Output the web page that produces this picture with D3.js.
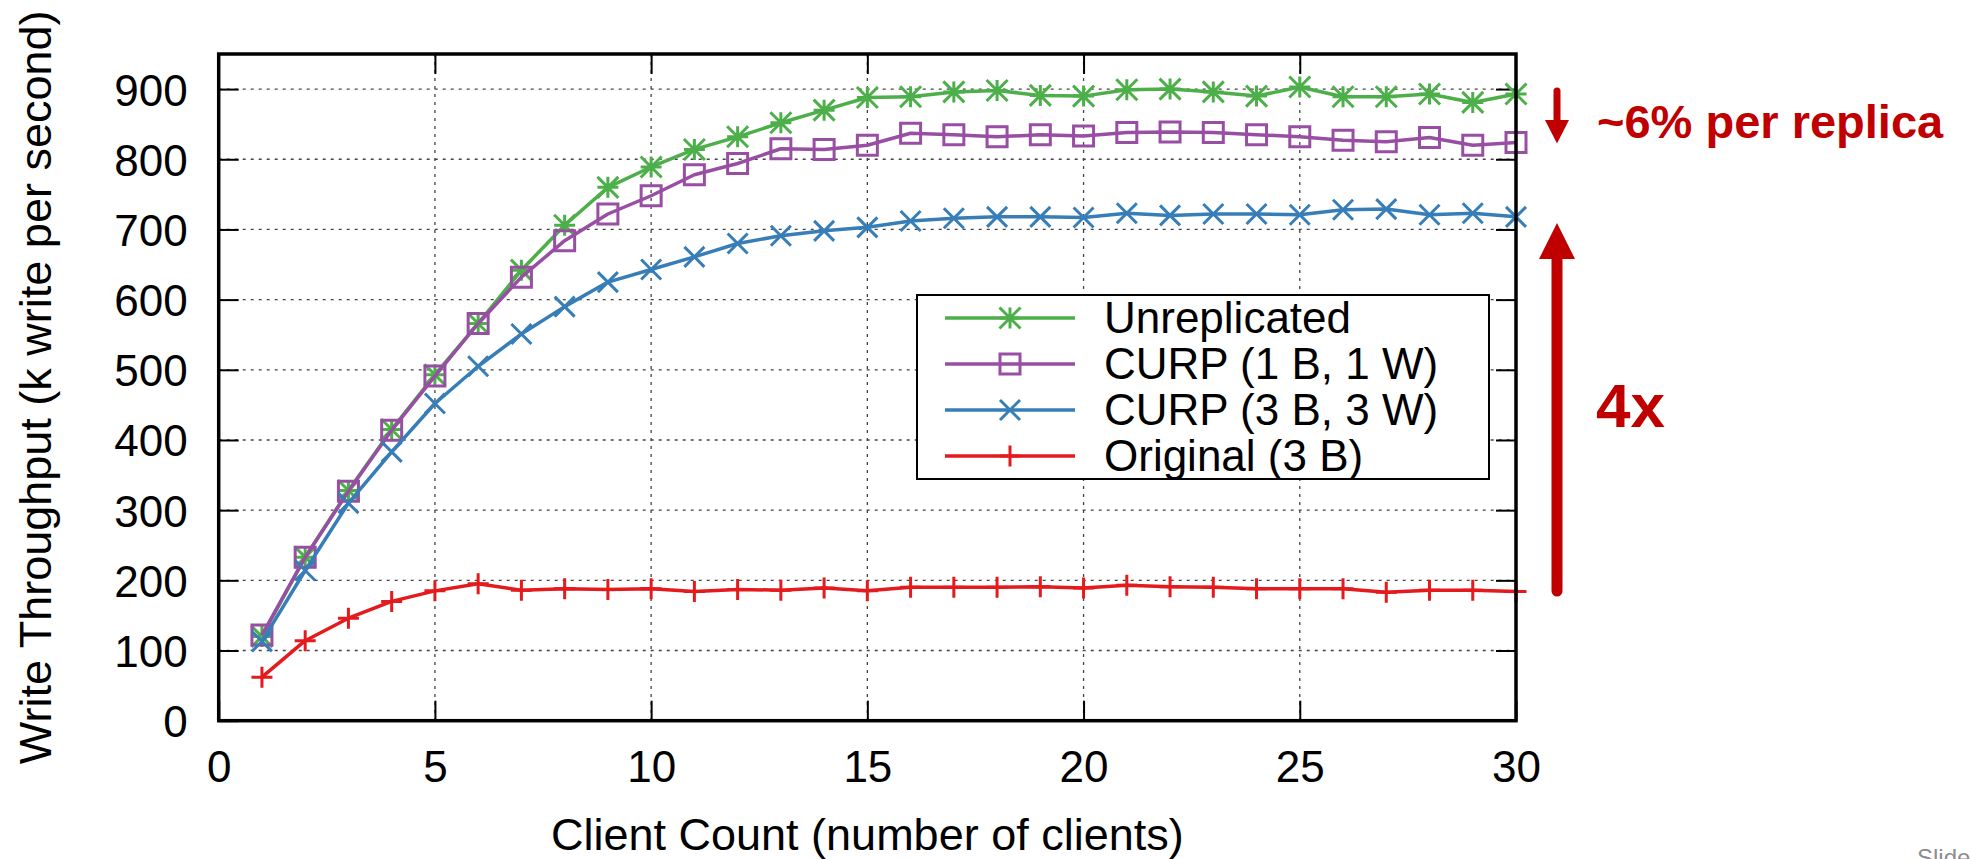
<!DOCTYPE html>
<html>
<head>
<meta charset="utf-8">
<script src="https://cdn.jsdelivr.net/npm/d3@7"></script>
<style>
  html, body { margin: 0; padding: 0; background: #fff; }
  svg { display: block; font-family: "Liberation Sans", Arial, Helvetica, sans-serif; }
</style>
</head>
<body>
<svg id="chart" width="1972" height="859"></svg>
<script>
// ---------------- data ----------------
const clients = [1,2,3,4,5,6,7,8,9,10,11,12,13,14,15,16,17,18,19,20,21,22,23,24,25,26,27,28,29,30];
const unreplicated = [120,233,328,415,493,566,642,706,760,789,814,832,852,870,888,889,896,898,891,890,899,900,896,890,903,889,889,893,881,893];
const curp1B1W    = [122,233,327,414,491,566,632,684,722,748,778,794,815,814,820,837,835,832,835,833,838,839,838,835,832,827,825,831,820,824];
const curp3B3W    = [113,214,310,383,452,505,551,590,625,643,661,680,691,698,703,712,716,718,718,717,723,720,722,722,721,728,729,721,723,718];
const original3B  = [62,114,146,170,185,195,186,188,187,188,184,187,186,189,185,190,190,190,191,189,193,191,190,188,188,188,183,186,186,184];

const seriesNames  = ["Unreplicated", "CURP (1 B, 1 W)", "CURP (3 B, 3 W)", "Original (3 B)"];
const seriesValues = [unreplicated, curp1B1W, curp3B3W, original3B];
const seriesColors = ["#4daf4a", "#984ea3", "#377eb8", "#e41a1c"];
const seriesMarkers = ["star", "square", "cross", "plus"];

const xTicks = [0,5,10,15,20,25,30];
const yTicks = [0,100,200,300,400,500,600,700,800,900];
const xDomain = [0, 30];
const yDomain = [0, 950];

const xLabel = "Client Count (number of clients)";
const yLabel = "Write Throughput (k write per second)";
const noteTop = "~6% per replica";
const noteBig = "4x";

// ---------------- layout ----------------
const svg = d3.select("#chart");
const L = 218.7, R = 1516, T = 54, B = 720.7;
const x = d3.scaleLinear().domain(xDomain).range([L, R]);
const y = d3.scaleLinear().domain(yDomain).range([B, T]);
const FONT = 44;

svg.append("rect").attr("width", 1972).attr("height", 859).attr("fill", "#fff");

// grid
const grid = svg.append("g").attr("stroke", "#444").attr("stroke-width", 1.3).attr("stroke-dasharray", "3,5");
grid.selectAll("line.h").data(yTicks.filter(d => d > 0)).join("line")
  .attr("x1", L).attr("x2", R).attr("y1", d => y(d)).attr("y2", d => y(d));
grid.selectAll("line.v").data(xTicks.filter(d => d > 0 && d < 30)).join("line")
  .attr("y1", T).attr("y2", B).attr("x1", d => x(d)).attr("x2", d => x(d));

// axes (inward ticks, mirrored)
function styleAxis(g) {
  g.select(".domain").remove();
  g.selectAll(".tick line").attr("stroke", "#000").attr("stroke-width", 2);
  g.selectAll(".tick text").attr("fill", "#000").attr("font-size", FONT)
    .attr("font-family", "Liberation Sans, Arial, sans-serif");
}
const gx = svg.append("g").attr("transform", `translate(0,${B})`)
  .call(d3.axisBottom(x).tickValues(xTicks).tickSize(-20).tickFormat(d3.format("d")));
styleAxis(gx);
gx.selectAll(".tick text").attr("dy", null).attr("y", 61);

const gy = svg.append("g").attr("transform", `translate(${L},0)`)
  .call(d3.axisLeft(y).tickValues(yTicks).tickSize(-20).tickPadding(31).tickFormat(d3.format("d")));
styleAxis(gy);
gy.selectAll(".tick text").attr("dy", null).attr("y", 16);

const gt = svg.append("g").attr("transform", `translate(0,${T})`)
  .call(d3.axisTop(x).tickValues(xTicks.filter(d => d > 0 && d < 30)).tickSize(-20).tickFormat(""));
styleAxis(gt);
const gr = svg.append("g").attr("transform", `translate(${R},0)`)
  .call(d3.axisRight(y).tickValues(yTicks.filter(d => d > 0)).tickSize(-20).tickFormat(""));
styleAxis(gr);

// markers
function markerPath(type, s) {
  const p = d3.path();
  if (type === "plus" || type === "star") {
    p.moveTo(-s, 0); p.lineTo(s, 0); p.moveTo(0, -s); p.lineTo(0, s);
  }
  if (type === "cross" || type === "star") {
    p.moveTo(-s, -s); p.lineTo(s, s); p.moveTo(-s, s); p.lineTo(s, -s);
  }
  if (type === "square") {
    p.rect(-s, -s, 2 * s, 2 * s);
  }
  return p.toString();
}
const mSize = { star: 10.5, square: 10, cross: 10, plus: 10.5 };

// series
const line = d3.line().x(d => x(d[0])).y(d => y(d[1]));
const plotG = svg.append("g");
seriesValues.forEach((vals, i) => {
  const pts = clients.map((c, j) => [c, vals[j]]);
  const g = plotG.append("g");
  g.append("path").attr("d", line(pts)).attr("fill", "none")
    .attr("stroke", seriesColors[i]).attr("stroke-width", 3.5).attr("stroke-linejoin", "round");
  g.selectAll("path.m").data(pts).join("path").attr("class", "m")
    .attr("transform", d => `translate(${x(d[0])},${y(d[1])})`)
    .attr("d", markerPath(seriesMarkers[i], mSize[seriesMarkers[i]]))
    .attr("fill", "none").attr("stroke", seriesColors[i]).attr("stroke-width", 3);
});

// frame
svg.append("rect").attr("x", L).attr("y", T).attr("width", R - L).attr("height", B - T)
  .attr("fill", "none").attr("stroke", "#000").attr("stroke-width", 3.5);

// legend
const lg = svg.append("g");
lg.append("rect").attr("x", 917).attr("y", 295).attr("width", 572).attr("height", 184)
  .attr("fill", "#fff").attr("stroke", "#000").attr("stroke-width", 2);
seriesNames.forEach((name, i) => {
  const cy = 318 + i * 46;
  lg.append("line").attr("x1", 945).attr("x2", 1075).attr("y1", cy).attr("y2", cy)
    .attr("stroke", seriesColors[i]).attr("stroke-width", 3.5);
  lg.append("path").attr("transform", `translate(1010,${cy})`)
    .attr("d", markerPath(seriesMarkers[i], mSize[seriesMarkers[i]]))
    .attr("fill", "none").attr("stroke", seriesColors[i]).attr("stroke-width", 3);
  lg.append("text").attr("x", 1104).attr("y", cy + 15).attr("font-size", FONT)
    .attr("fill", "#000").text(name);
});

// axis titles
svg.append("text").attr("x", (L + R) / 2).attr("y", 850).attr("text-anchor", "middle")
  .attr("font-size", 45).attr("fill", "#000").text(xLabel);
svg.append("text").attr("transform", `translate(51,${(T + B) / 2}) rotate(-90)`)
  .attr("text-anchor", "middle").attr("font-size", 45).attr("fill", "#000").text(yLabel);

// annotations
const RED = "#c00000";
const ax = 1557;
svg.append("line").attr("x1", ax).attr("x2", ax).attr("y1", 91).attr("y2", 124)
  .attr("stroke", RED).attr("stroke-width", 7).attr("stroke-linecap", "round");
svg.append("path").attr("d", `M${ax - 12},120L${ax + 12},120L${ax},143.5Z`).attr("fill", RED);
svg.append("line").attr("x1", ax).attr("x2", ax).attr("y1", 255).attr("y2", 591)
  .attr("stroke", RED).attr("stroke-width", 11).attr("stroke-linecap", "round");
svg.append("path").attr("d", `M${ax - 18},259L${ax + 18},259L${ax},223Z`).attr("fill", RED);

svg.append("text").attr("x", 1597).attr("y", 138).attr("font-size", 47).attr("font-weight", "bold")
  .attr("fill", RED).text(noteTop);
svg.append("text").attr("x", 1596).attr("y", 427).attr("font-size", 62).attr("font-weight", "bold")
  .attr("fill", RED).text(noteBig);

// slide footer (cut off at bottom)
svg.append("text").attr("x", 1917).attr("y", 866).attr("font-size", 24).attr("fill", "#8c8c8c").text("Slide");
</script>
</body>
</html>
